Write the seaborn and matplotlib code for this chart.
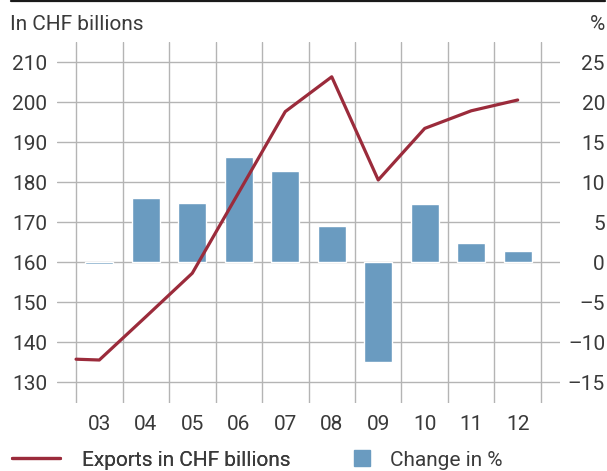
import matplotlib
matplotlib.use("Agg")
import matplotlib.pyplot as plt
from matplotlib.lines import Line2D
import seaborn as sns
import pandas as pd

# Swiss exports, 2003-2012
years = ["03", "04", "05", "06", "07", "08", "09", "10", "11", "12"]
exports_chf_bn = [135.5, 146.3, 157.2, 177.4, 197.6, 206.3, 180.5, 193.4, 197.8, 200.5]
change_pct = [-0.2, 8.0, 7.4, 13.1, 11.4, 4.5, -12.5, 7.3, 2.4, 1.4]
# level at the end of the preceding year, where the line starts
start_level = 135.7

left_ticks = [130, 140, 150, 160, 170, 180, 190, 200, 210]
right_ticks = [-15, -10, -5, 0, 5, 10, 15, 20, 25]

LINE_COLOR = "#9b2b3b"
BAR_COLOR = "#6a9bc0"
GRID_COLOR = "#b4b4b4"
TEXT_COLOR = "#3a3a3a"
FS = 15

sns.set_theme(style="white")
plt.rcParams["font.family"] = ["Roboto", "DejaVu Sans"]
plt.rcParams["text.color"] = TEXT_COLOR

W, H = 607, 471
fig = plt.figure(figsize=(W / 100, H / 100), dpi=100)
ax = fig.add_axes([57 / W, 1 - 403 / H, (560 - 57) / W, (403 - 42) / H])
ax2 = ax.twinx()

bars = pd.DataFrame({"year": years, "change": change_pct})
sns.barplot(data=bars, x="year", y="change", ax=ax, color=BAR_COLOR,
            saturation=1, width=0.6, zorder=2)

ax.set_xlim(-0.91, 9.91)
ax.set_ylim(-17.625, 27.5)
ax.yaxis.tick_right()
ax.set_yticks(right_ticks)
ax.set_yticklabels([f"{t}" if t >= 0 else f"\u2013{abs(t)}" for t in right_ticks])
ax.set_xlabel("")
ax.set_ylabel("")
ax.set_xticks([i - 0.5 for i in range(len(years) + 1)], minor=True)
ax.grid(False)
ax.grid(True, which="minor", axis="x", color=GRID_COLOR, linewidth=1.0)
ax.grid(True, which="major", axis="y", color=GRID_COLOR, linewidth=1.0)
ax.set_axisbelow(True)
for s in ax.spines.values():
    s.set_visible(False)
ax.tick_params(axis="x", which="both", length=0, pad=9, labelsize=FS, labelcolor=TEXT_COLOR)
ax.tick_params(axis="y", length=0, labelsize=FS, labelcolor=TEXT_COLOR, pad=32.4)
for lbl in ax.get_yticklabels():
    lbl.set_horizontalalignment("right")

line = pd.DataFrame({"pos": [-0.5] + list(range(len(years))),
                     "exports": [start_level] + exports_chf_bn})
sns.lineplot(data=line, x="pos", y="exports", ax=ax2, color=LINE_COLOR,
             linewidth=2.3, sort=False, zorder=3)
ax2.set_ylim(124.75, 215)
ax2.set_xlim(-0.91, 9.91)
ax2.yaxis.tick_left()
ax2.set_yticks(left_ticks)
ax2.set_ylabel("")
ax2.set_xlabel("")
ax2.grid(False)
for s in ax2.spines.values():
    s.set_visible(False)
ax2.tick_params(axis="y", length=0, labelsize=FS, labelcolor=TEXT_COLOR, pad=7.2)

fig.text(10 / W, 1 - 25 / H, "In CHF billions", fontsize=FS, va="center", ha="left")
fig.text(605 / W, 1 - 25 / H, "%", fontsize=FS, va="center", ha="right")

# rule across the top
fig.add_artist(Line2D([11 / W, 605 / W], [1 - 1 / H, 1 - 1 / H],
                      color="#1a1a1a", linewidth=1.6, transform=fig.transFigure))

leg1 = fig.legend(handles=[Line2D([], [], color=LINE_COLOR, linewidth=2.3)],
                  labels=["Exports in CHF billions"], loc="center left",
                  bbox_to_anchor=(12 / W, 1 - 460 / H), frameon=False,
                  fontsize=FS, handlelength=2.3, handletextpad=1.05,
                  borderpad=0, borderaxespad=0)
fig.add_artist(leg1)
fig.legend(handles=[Line2D([], [], color=BAR_COLOR, marker="s", linestyle="none",
                           markersize=11.5)],
           labels=["Change in %"], loc="center left",
           bbox_to_anchor=(352 / W, 1 - 460 / H), frameon=False,
           fontsize=FS, handlelength=0.95, handletextpad=0.85,
           borderpad=0, borderaxespad=0)

fig.savefig("out.png", dpi=100)
